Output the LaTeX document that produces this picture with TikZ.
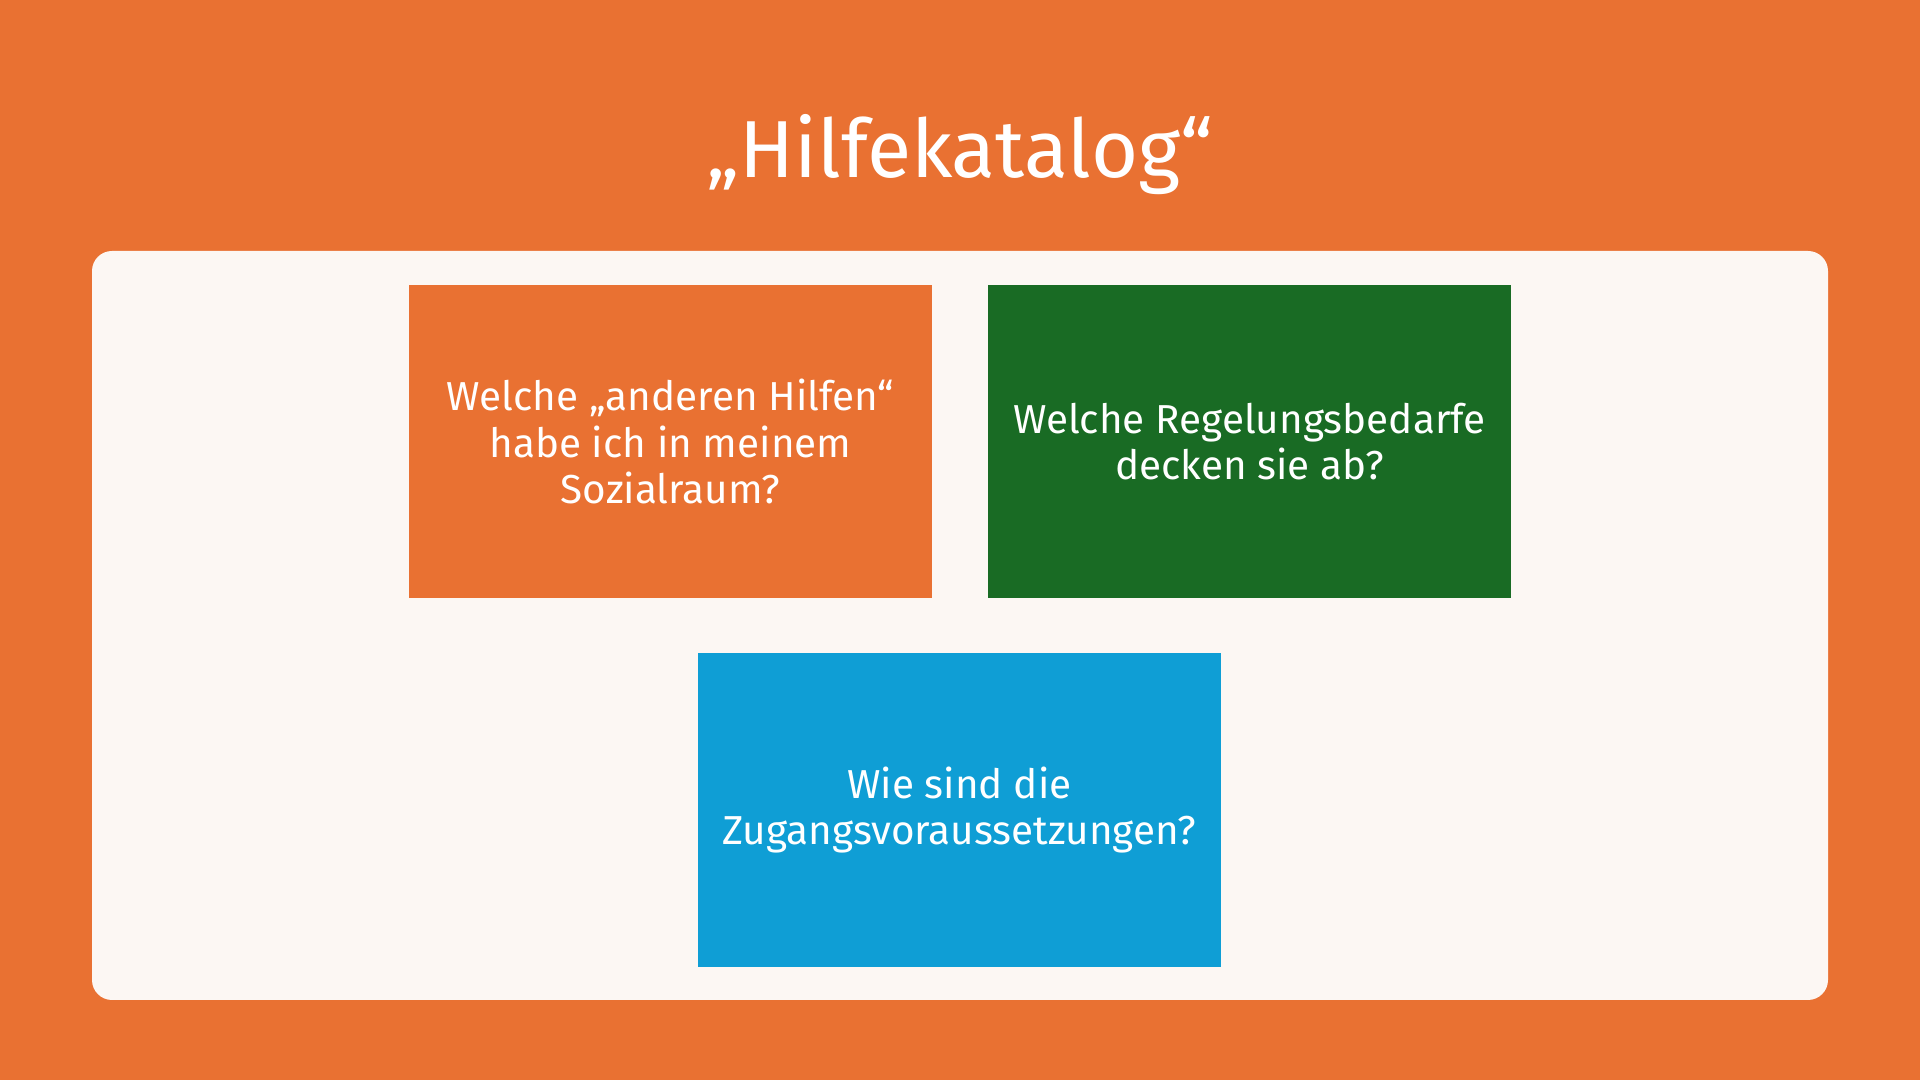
\documentclass[tikz,border=0pt]{standalone}
\usepackage{fontspec}
\setmainfont{Fira Sans}
\setsansfont{Fira Sans}
\definecolor{bgorange}{HTML}{E97132}
\definecolor{panelwhite}{HTML}{FCF7F3}
\definecolor{darkgreen}{HTML}{196B24}
\definecolor{skyblue}{HTML}{0F9ED5}

\begin{document}
\begin{tikzpicture}[x=0.01cm,y=-0.01cm,
    question/.style={minimum width=5.23cm,minimum height=3.13cm,inner sep=0pt,
        text=white,align=center,font=\fontsize{11.5}{13.2}\selectfont}]
    \useasboundingbox (0,0) rectangle (1920,1080);
    \fill[bgorange] (0,0) rectangle (1920,1080);
    % title
    \node[anchor=base,text=white,font=\fontsize{23}{28}\selectfont] (title) at (960,178) {„Hilfekatalog“};
    % white panel
    \fill[panelwhite,rounded corners=0.2cm] (92,251) rectangle (1828,1000);
    \node[question,fill=bgorange] (hilfen) at (670.5,441.5)
        {Welche „anderen Hilfen“\\habe ich in meinem\\Sozialraum?};
    \node[question,fill=darkgreen] (bedarfe) at (1249.5,441.5)
        {Welche Regelungsbedarfe\\decken sie ab?};
    \node[question,fill=skyblue] (zugang) at (959.5,810)
        {Wie sind die\\Zugangsvoraussetzungen?};
\end{tikzpicture}
\end{document}
